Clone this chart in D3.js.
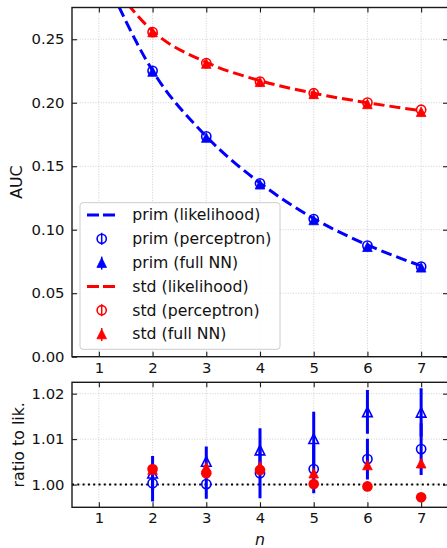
<!DOCTYPE html>
<html><head><meta charset="utf-8">
<script src="https://cdn.jsdelivr.net/npm/d3@7"></script>
<style>body{margin:0;background:#fff} text{font-family:"DejaVu Sans",sans-serif;fill:#111}</style>
</head><body><svg id="c" width="447" height="548"></svg>
<script>
// ---- data ----
const nAll = [1,2,3,4,5,6,7];
const nPts = [2,3,4,5,6,7];
const primLik  = [0.310,0.2252,0.1735,0.1368,0.1088,0.0880,0.0715];
const primPerc = [0.2251,0.1735,0.1365,0.1084,0.0875,0.0709];
const primNN   = [0.2246,0.1726,0.1358,0.1077,0.0866,0.0704];
const stdLik   = [0.308,0.2565,0.2318,0.2174,0.2075,0.2000,0.1938];
const stdPerc  = [0.2556,0.2312,0.2167,0.2075,0.2001,0.1945];
const stdNN    = [0.2557,0.2309,0.2165,0.2070,0.1991,0.1929];

const ratioPrimPerc = [1.0003,1.0001,1.0025,1.0034,1.0056,1.0078];
const errPrimPerc   = [0.0040,0.0032,0.0055,0.0053,0.0045,0.0057];
const ratioPrimNN   = [1.0025,1.0051,1.0076,1.0101,1.0160,1.0159];
const errPrimNN     = [0.0038,0.0033,0.0048,0.0059,0.0048,0.0053];
const ratioStdPerc  = [1.0034,1.0025,1.0032,1.0001,0.9996,0.9972];
const ratioStdNN    = [1.0033,1.0038,1.0040,1.0025,1.0043,1.0047];

const xTicks = [1,2,3,4,5,6,7];
const yTicksTop = [0,0.05,0.10,0.15,0.20,0.25];
const yTicksBot = [1.00,1.01,1.02];
const legendLabels = ["prim (likelihood)","prim (perceptron)","prim (full NN)","std (likelihood)","std (perceptron)","std (full NN)"];

// ---- layout ----
const BLUE="#0000ff", RED="#ff0000", INK="#1a1a1a";
const svg = d3.select("#c");
const L=72, R=448;
const top1=7.5, bot1=356.7, top2=382.3, bot2=507.3;
const x = d3.scaleLinear().domain([0.5,7.5]).range([L,R]);
const y1 = d3.scaleLinear().domain([0,0.275]).range([bot1,top1]);
const y2 = d3.scaleLinear().domain([0.995,1.0225]).range([bot2,top2]);

const defs = svg.append("defs");
defs.append("clipPath").attr("id","clip1").append("rect").attr("x",L).attr("y",top1).attr("width",R-L).attr("height",bot1-top1);
defs.append("clipPath").attr("id","clip2").append("rect").attr("x",L).attr("y",top2).attr("width",R-L).attr("height",bot2-top2);

function tri(s){ return `M0,${-s}L${-s},${s}L${s},${s}Z`; }

function grid(g, yS, yT, t, b){
  g.selectAll(".gx").data(xTicks).join("line")
    .attr("x1",d=>x(d)).attr("x2",d=>x(d)).attr("y1",t).attr("y2",b)
    .attr("stroke","#c4c4c4").attr("stroke-width",0.8).attr("stroke-dasharray","1,1.6");
  g.selectAll(".gy").data(yT).join("line")
    .attr("x1",L).attr("x2",R).attr("y1",d=>yS(d)).attr("y2",d=>yS(d))
    .attr("stroke","#c4c4c4").attr("stroke-width",0.8).attr("stroke-dasharray","1,1.6");
}

function axes(yS, yT, t, b){
  const gL = svg.append("g").attr("transform",`translate(${L},0)`)
    .call(d3.axisLeft(yS).tickValues(yT).tickFormat(d3.format(".2f")).tickSize(-5).tickPadding(7.5));
  const gR = svg.append("g").attr("transform",`translate(${R},0)`)
    .call(d3.axisRight(yS).tickValues(yT).tickFormat("").tickSize(-5));
  const gB = svg.append("g").attr("transform",`translate(0,${b})`)
    .call(d3.axisBottom(x).tickValues(xTicks).tickFormat(d3.format("d")).tickSize(-5).tickPadding(5.5));
  const gT = svg.append("g").attr("transform",`translate(0,${t})`)
    .call(d3.axisTop(x).tickValues(xTicks).tickFormat("").tickSize(-5));
  [gL,gR,gB,gT].forEach(g=>{
    g.select(".domain").remove();
    g.selectAll(".tick line").attr("stroke",INK).attr("stroke-width",1.1);
    g.selectAll(".tick text").attr("font-size",14.8).attr("fill",INK).style("font-family","DejaVu Sans");
  });
  svg.append("rect").attr("x",L).attr("y",t).attr("width",R-L).attr("height",b-t)
    .attr("fill","none").attr("stroke",INK).attr("stroke-width",1.4);
}

// ---- top panel ----
const g1 = svg.append("g");
grid(g1, y1, yTicksTop, top1, bot1);
const p1 = svg.append("g").attr("clip-path","url(#clip1)");
const line1 = d3.line().x((d,i)=>x(nAll[i])).y(d=>y1(d)).curve(d3.curveMonotoneX);
p1.append("path").attr("d",line1(primLik)).attr("fill","none").attr("stroke",BLUE).attr("stroke-width",3).attr("stroke-dasharray","11,5");
p1.append("path").attr("d",line1(stdLik)).attr("fill","none").attr("stroke",RED).attr("stroke-width",3).attr("stroke-dasharray","11,5");

function circlesOpen(g, xs, vals, yS, col, r){
  g.selectAll(null).data(vals).join("circle")
    .attr("cx",(d,i)=>x(xs[i])).attr("cy",d=>yS(d)).attr("r",r)
    .attr("fill","none").attr("stroke",col).attr("stroke-width",1.6);
}
function circlesFilled(g, xs, vals, yS, col, r){
  g.selectAll(null).data(vals).join("circle")
    .attr("cx",(d,i)=>x(xs[i])).attr("cy",d=>yS(d)).attr("r",r).attr("fill",col);
}
function tris(g, xs, vals, yS, col, s, filled){
  g.selectAll(null).data(vals).join("path")
    .attr("d",tri(s)).attr("transform",(d,i)=>`translate(${x(xs[i])},${yS(d)})`)
    .attr("fill",filled?col:"none").attr("stroke",col).attr("stroke-width",filled?0.8:1.6);
}
circlesOpen(p1, nPts, primPerc, y1, BLUE, 4.6);
tris(p1, nPts, primNN, y1, BLUE, 4.8, true);
circlesOpen(p1, nPts, stdPerc, y1, RED, 4.6);
tris(p1, nPts, stdNN, y1, RED, 4.8, true);
axes(y1, yTicksTop, top1, bot1);

// legend
const lg = svg.append("g");
lg.append("rect").attr("x",80).attr("y",202.7).attr("width",200).attr("height",146.6).attr("rx",3)
  .attr("fill","#fff").attr("fill-opacity",0.85).attr("stroke","#cccccc").attr("stroke-width",1);
legendLabels.forEach((lab,i)=>{
  const cy = 215 + i*23.8;
  const col = i<3?BLUE:RED;
  const kind = i%3;
  const hx = 101.7;
  if(kind===0){
    lg.append("line").attr("x1",87).attr("x2",116).attr("y1",cy).attr("y2",cy)
      .attr("stroke",col).attr("stroke-width",3).attr("stroke-dasharray","12,4");
  } else if(kind===1){
    lg.append("line").attr("x1",hx).attr("x2",hx).attr("y1",cy-6).attr("y2",cy+6).attr("stroke",col).attr("stroke-width",1.5);
    lg.append("circle").attr("cx",hx).attr("cy",cy).attr("r",4.6).attr("fill","none").attr("stroke",col).attr("stroke-width",1.6);
  } else {
    lg.append("line").attr("x1",hx).attr("x2",hx).attr("y1",cy-6).attr("y2",cy+7).attr("stroke",col).attr("stroke-width",1.5);
    lg.append("path").attr("d",tri(4.8)).attr("transform",`translate(${hx},${cy})`).attr("fill",col).attr("stroke",col).attr("stroke-width",0.8);
  }
  lg.append("text").attr("x",132.3).attr("y",cy).attr("dy","0.35em").attr("font-size",15.7).text(lab);
});

svg.append("text").attr("transform",`translate(22,${(top1+bot1)/2}) rotate(-90)`)
  .attr("text-anchor","middle").attr("font-size",15.8).text("AUC");

// ---- bottom panel ----
const g2 = svg.append("g");
grid(g2, y2, yTicksBot, top2, bot2);
const p2 = svg.append("g").attr("clip-path","url(#clip2)");
p2.append("line").attr("x1",L).attr("x2",R).attr("y1",y2(1)).attr("y2",y2(1))
  .attr("stroke","#000").attr("stroke-width",2).attr("stroke-dasharray","2,3.3");
function errbars(g, xs, vals, errs, col){
  g.selectAll(null).data(vals).join("line")
    .attr("x1",(d,i)=>x(xs[i])).attr("x2",(d,i)=>x(xs[i]))
    .attr("y1",(d,i)=>y2(d-errs[i])).attr("y2",(d,i)=>y2(d+errs[i]))
    .attr("stroke",col).attr("stroke-width",3);
}
errbars(p2, nPts, ratioPrimPerc, errPrimPerc, BLUE);
errbars(p2, nPts, ratioPrimNN, errPrimNN, BLUE);
circlesOpen(p2, nPts, ratioPrimPerc, y2, BLUE, 4.6);
tris(p2, nPts, ratioPrimNN, y2, BLUE, 4.8, false);
circlesFilled(p2, nPts, ratioStdPerc, y2, RED, 5.3);
tris(p2, nPts, ratioStdNN, y2, RED, 4.8, true);
axes(y2, yTicksBot, top2, bot2);

svg.append("text").attr("transform",`translate(23.5,${(top2+bot2)/2}) rotate(-90)`)
  .attr("text-anchor","middle").attr("font-size",15.8).text("ratio to lik.");
svg.append("text").attr("x",(L+R)/2).attr("y",545).attr("text-anchor","middle")
  .attr("font-size",15.8).attr("font-style","italic").text("n");
</script></body></html>
